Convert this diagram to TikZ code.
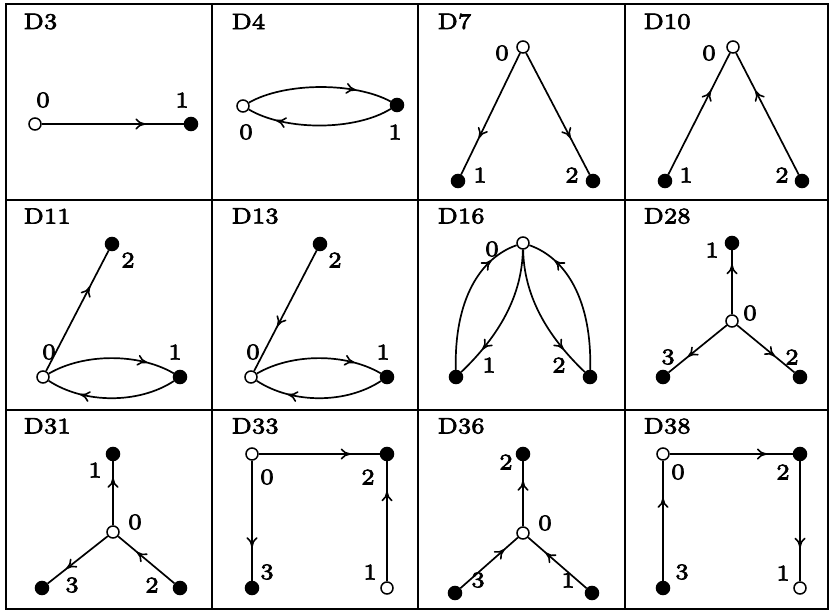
\documentclass[tikz,border=0pt]{standalone}
\usepackage{fontspec}
\newfontfamily\labfont{lmroman7-regular.otf}[FakeBold=3]
\usetikzlibrary{arrows.meta,decorations.markings}
\begin{document}
\begin{tikzpicture}[x=1pt,y=-1pt,
  txt/.style={font=\labfont\fontsize{7}{8}\selectfont,scale=3.2,xscale=1.05,inner sep=0pt},
  open/.style={circle,draw,fill=white,line width=1.5pt,minimum size=12pt,inner sep=0pt},
  full/.style={circle,draw,fill=black,line width=1.5pt,minimum size=13pt,inner sep=0pt},
  lab/.style={txt},
  title/.style={txt,anchor=west},
  edge/.style={line width=1.7pt},
  arr/.style={edge,postaction={decorate},decoration={markings,
      mark=at position #1 with {\arrow{Computer Modern Rightarrow[length=10pt,width=11pt,line width=1.6pt]}}}},
  arr/.default=0.72,
  gridline/.style={line width=1.8pt}]
\useasboundingbox (0,0) rectangle (833,611);

% frame of the table
\draw[gridline] (6,4) rectangle (828,609);
\foreach \gx in {212,418,625} \draw[gridline] (\gx,4) -- (\gx,609);
\foreach \gy in {200,410} \draw[gridline] (6,\gy) -- (828,\gy);

% ---------- D3
\node[title] (t3) at (23,21.5) {D3};
\node[open] (a0) at (35,124) {};
\node[full] (a1) at (191,124) {};
\node[lab] (la0) at (43,100) {0};
\node[lab] (la1) at (182,100) {1};
\draw[arr=0.73] (a0) -- (a1);

% ---------- D4
\node[title] (t4) at (231,21.5) {D4};
\node[open] (b0) at (243,106) {};
\node[full] (b1) at (397,105) {};
\node[lab] (lb0) at (246,132) {0};
\node[lab] (lb1) at (395,132) {1};
\draw[arr=0.75] (b0) .. controls (285,82) and (355,82) .. (b1);
\draw[arr=0.8] (b1) .. controls (355,131) and (285,131) .. (b0);

% ---------- D7
\node[title] (t7) at (437,21.5) {D7};
\node[open] (c0) at (523,47) {};
\node[full] (c1) at (458,181) {};
\node[full] (c2) at (593,181) {};
\node[lab] (lc0) at (502,53) {0};
\node[lab] (lc1) at (480,175) {1};
\node[lab] (lc2) at (572,175) {2};
\draw[arr=0.7] (c0) -- (c1);
\draw[arr=0.7] (c0) -- (c2);

% ---------- D10
\node[title] (t10) at (643,21.5) {D10};
\node[open] (d0) at (733,47) {};
\node[full] (d1) at (665,181) {};
\node[full] (d2) at (802,181) {};
\node[lab] (ld0) at (709,53) {0};
\node[lab] (ld1) at (686,175) {1};
\node[lab] (ld2) at (782,175) {2};
\draw[arr=0.69] (d1) -- (d0);
\draw[arr=0.69] (d2) -- (d0);

% ---------- D11
\node[title] (t11) at (23,216) {D11};
\node[open] (e0) at (43,377) {};
\node[full] (e1) at (180,377) {};
\node[full] (e2) at (112,244) {};
\node[lab] (le0) at (49,352) {0};
\node[lab] (le1) at (175,352) {1};
\node[lab] (le2) at (128,260) {2};
\draw[arr=0.7] (e0) -- (e2);
\draw[arr=0.78] (e0) .. controls (84,353) and (139,353) .. (e1);
\draw[arr=0.74] (e1) .. controls (139,404) and (84,404) .. (e0);

% ---------- D13
\node[title] (t13) at (231,216) {D13};
\node[open] (f0) at (251,377) {};
\node[full] (f1) at (387,377) {};
\node[full] (f2) at (320,244) {};
\node[lab] (lf0) at (253,352) {0};
\node[lab] (lf1) at (383,352) {1};
\node[lab] (lf2) at (335,260) {2};
\draw[arr=0.63] (f2) -- (f0);
\draw[arr=0.78] (f0) .. controls (292,353) and (346,353) .. (f1);
\draw[arr=0.74] (f1) .. controls (346,404) and (292,404) .. (f0);

% ---------- D16
\node[title] (t16) at (437,216) {D16};
\node[open] (g0) at (523,243) {};
\node[full] (g1) at (456,377) {};
\node[full] (g2) at (590,377) {};
\node[lab] (lg0) at (492,249) {0};
\node[lab] (lg1) at (489,365) {1};
\node[lab] (lg2) at (559,365) {2};
\draw[arr=0.8] (g1) .. controls (454,300) and (480,258) .. (g0);
\draw[arr=0.78] (g0) .. controls (522,295) and (500,335) .. (g1);
\draw[arr=0.8] (g2) .. controls (592,300) and (566,258) .. (g0);
\draw[arr=0.78] (g0) .. controls (524,295) and (546,335) .. (g2);

% ---------- D28
\node[title] (t28) at (643,216) {D28};
\node[open] (h0) at (732,321) {};
\node[full] (h1) at (732,243) {};
\node[full] (h2) at (800,377) {};
\node[full] (h3) at (663,377) {};
\node[lab] (lh0) at (750,313) {0};
\node[lab] (lh1) at (712,250) {1};
\node[lab] (lh2) at (792,357) {2};
\node[lab] (lh3) at (668,357) {3};
\draw[arr=0.78] (h0) -- (h1);
\draw[arr=0.66] (h0) -- (h2);
\draw[arr=0.67] (h0) -- (h3);

% ---------- D31
\node[title] (t31) at (23,426) {D31};
\node[open] (i0) at (113,532) {};
\node[full] (i1) at (113,454) {};
\node[full] (i2) at (180,588) {};
\node[full] (i3) at (42,588) {};
\node[lab] (li0) at (135,522) {0};
\node[lab] (li1) at (95,470) {1};
\node[lab] (li2) at (152,585) {2};
\node[lab] (li3) at (72,585) {3};
\draw[arr=0.74] (i0) -- (i1);
\draw[arr=0.67] (i2) -- (i0);
\draw[arr=0.69] (i0) -- (i3);

% ---------- D33
\node[title] (t33) at (231,426) {D33};
\node[open] (j0) at (252,454) {};
\node[open] (j1) at (387,588) {};
\node[full] (j2) at (387,454) {};
\node[full] (j3) at (252,588) {};
\node[lab] (lj0) at (267,477) {0};
\node[lab] (lj1) at (370,572) {1};
\node[lab] (lj2) at (368,477) {2};
\node[lab] (lj3) at (267,572) {3};
\draw[arr=0.76] (j0) -- (j2);
\draw[arr=0.72] (j0) -- (j3);
\draw[arr=0.75] (j1) -- (j2);

% ---------- D36
\node[title] (t36) at (437,426) {D36};
\node[open] (k0) at (523,533) {};
\node[full] (k1) at (592,593) {};
\node[full] (k2) at (523,454) {};
\node[full] (k3) at (455,593) {};
\node[lab] (lk0) at (545,523) {0};
\node[lab] (lk1) at (568,580) {1};
\node[lab] (lk2) at (506,462) {2};
\node[lab] (lk3) at (478,580) {3};
\draw[arr=0.7] (k0) -- (k2);
\draw[arr=0.7] (k1) -- (k0);
\draw[arr=0.77] (k3) -- (k0);

% ---------- D38
\node[title] (t38) at (643,426) {D38};
\node[open] (m0) at (663,454) {};
\node[open] (m1) at (800,588) {};
\node[full] (m2) at (800,454) {};
\node[full] (m3) at (663,588) {};
\node[lab] (lm0) at (678,472) {0};
\node[lab] (lm1) at (783,573) {1};
\node[lab] (lm2) at (783,472) {2};
\node[lab] (lm3) at (682,572) {3};
\draw[arr=0.79] (m0) -- (m2);
\draw[arr=0.72] (m2) -- (m1);
\draw[arr=0.69] (m3) -- (m0);
\end{tikzpicture}
\end{document}
